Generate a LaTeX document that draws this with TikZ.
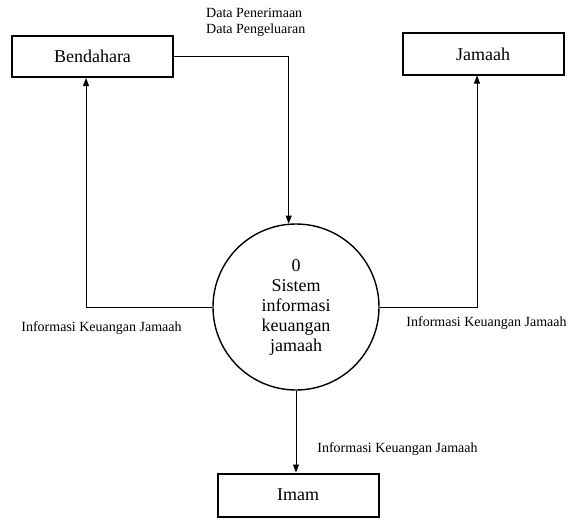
\documentclass[tikz,border=0pt]{standalone}
\usepackage{fontspec}
\setmainfont{Liberation Serif}
\usetikzlibrary{arrows.meta}

\tikzset{
  entity/.style={draw, line width=2pt, minimum width=161pt, minimum height=41pt,
    inner sep=0pt, font=\fontsize{18}{20}\selectfont},
  process/.style={draw, circle, line width=1.4pt, minimum size=166pt, inner sep=0pt,
    align=center, font=\fontsize{18}{20}\selectfont},
  flow/.style={line width=0.8pt, -{Triangle[length=8pt,width=6pt]}},
  flowlabel/.style={font=\fontsize{14}{16}\selectfont, inner sep=0pt}
}

\begin{document}
\begin{tikzpicture}[x=1pt,y=-1pt]
\useasboundingbox (0,0) rectangle (575,519);

% we draw the external entities
\node[entity] (bendahara) at (92.5,56.5) {Bendahara};
\node[entity] (jamaah) at (483,54) {Jamaah};
\node[entity, minimum height=43pt] (imam) at (298,495) {Imam};

% we draw the process
\node[process] (sistem) at (296,307) {0\\Sistem\\informasi\\keuangan\\jamaah};

% we draw the flows
\draw[flow] (bendahara.east) -| (sistem.95);
\draw[flow] (sistem.west) -| ([xshift=-6.5pt]bendahara.south);
\draw[flow] (sistem.east) -| ([xshift=-6pt]jamaah.south);
\draw[flow] (sistem.south) -- (sistem.south |- imam.north);

% we add some labels
\node[flowlabel, anchor=west, align=left] (lblin) at (206,22) {Data Penerimaan\\Data Pengeluaran};
\node[flowlabel] (lblbend) at (101.5,328) {Informasi Keuangan Jamaah};
\node[flowlabel] (lbljam) at (486.5,323) {Informasi Keuangan Jamaah};
\node[flowlabel] (lblimam) at (397.5,449) {Informasi Keuangan Jamaah};

\end{tikzpicture}
\end{document}
